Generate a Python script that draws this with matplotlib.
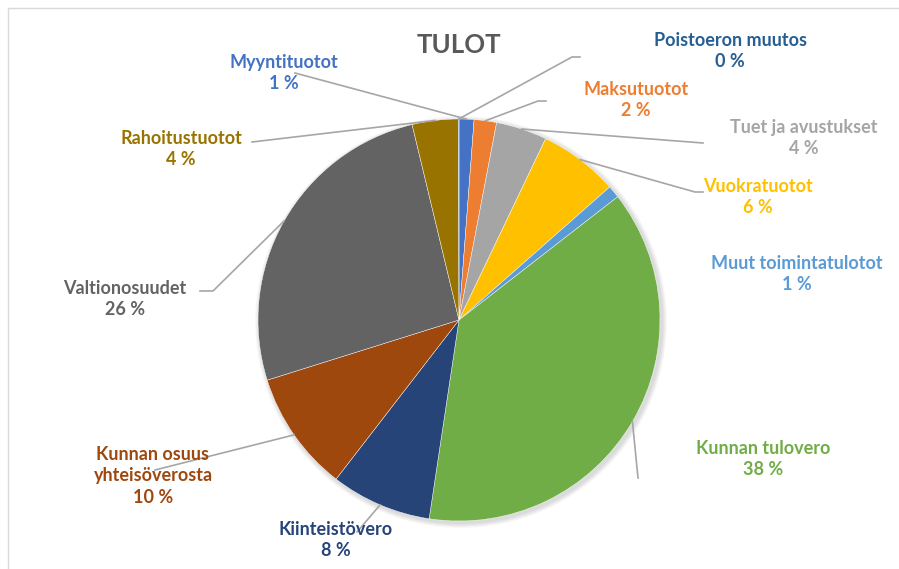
import matplotlib.pyplot as plt
from matplotlib.patches import Rectangle, Circle
import math

W, H = 899, 569

# data
nimet = ['Myyntituotot', 'Maksutuotot', 'Tuet ja avustukset', 'Vuokratuotot',
         'Muut toimintatulotot', 'Kunnan tulovero', 'Kiinteistövero',
         'Kunnan osuus\nyhteisöverosta', 'Valtionosuudet', 'Rahoitustuotot',
         'Poistoeron muutos']
osuudet = [1.2, 1.8, 4.1, 6.4, 1.0, 37.9, 8.1, 9.7, 26.1, 3.7, 0.05]
varit = ['#4472C4', '#ED7D31', '#A5A5A5', '#FFC000', '#5B9BD5', '#70AD47',
         '#264478', '#9E480E', '#636363', '#997300', '#255E91']

# layout (pixels, y down)
cx, cy, r = 459, 320, 201
tekstit = [(284, 73), (636, 100), (804, 138), (758, 197), (797, 274),
           (763, 459), (336, 540), (153, 476), (125, 299), (181, 149),
           (730, 51)]
viivat = [[(295, 73)], [(538, 101), (546, 101)], [(703, 143)],
          [(695, 192), (703, 192)], None, [(638, 478)], [(357, 532)],
          [(155, 470)], [(213, 291), (200, 291)], [(252, 142)],
          [(572, 57), (580, 57)]]

def Y(py):
    return H - py

fig = plt.figure(figsize=(W / 100, H / 100), dpi=100)
ax = fig.add_axes([0, 0, 1, 1])
ax.add_patch(Rectangle((8, -10), W, Y(8) + 10, fill=False, ec='#D9D9D9', lw=1))

# pehmeä varjo
for k in range(6):
    ax.add_patch(Circle((cx + 2, Y(cy + 2)), r + 1 + k * 0.8, color='black',
                        alpha=0.025, lw=0, zorder=1))

wedges, _ = ax.pie(osuudet, colors=varit, startangle=90, counterclock=False,
                   center=(cx, Y(cy)), radius=r,
                   wedgeprops=dict(edgecolor='white', linewidth=0.3, zorder=2))

for i, w in enumerate(wedges):
    pros = round(osuudet[i] / sum(osuudet) * 100)
    tx, ty = tekstit[i]
    ax.text(tx, Y(ty), f'{nimet[i]}\n{pros} %', ha='center', va='center',
            color=varit[i], fontsize=13, fontweight='bold', family='Lato',
            linespacing=1.32, zorder=4)
    if viivat[i] is None:
        continue
    a = math.radians((w.theta1 + w.theta2) / 2)
    pts = [(cx + r * math.cos(a), Y(cy) + r * math.sin(a))]
    pts += [(px, Y(py)) for px, py in viivat[i]]
    ax.plot([p[0] for p in pts], [p[1] for p in pts], color='#A6A6A6',
            lw=1.2, zorder=3)

ax.text(cx, Y(45), 'TULOT', ha='center', va='center', fontsize=18.5,
        fontweight='bold', color='#595959', family='Lato')

ax.set_xlim(0, W)
ax.set_ylim(0, H)
ax.set_aspect('equal')
ax.axis('off')
fig.savefig('out.png', dpi=100)
